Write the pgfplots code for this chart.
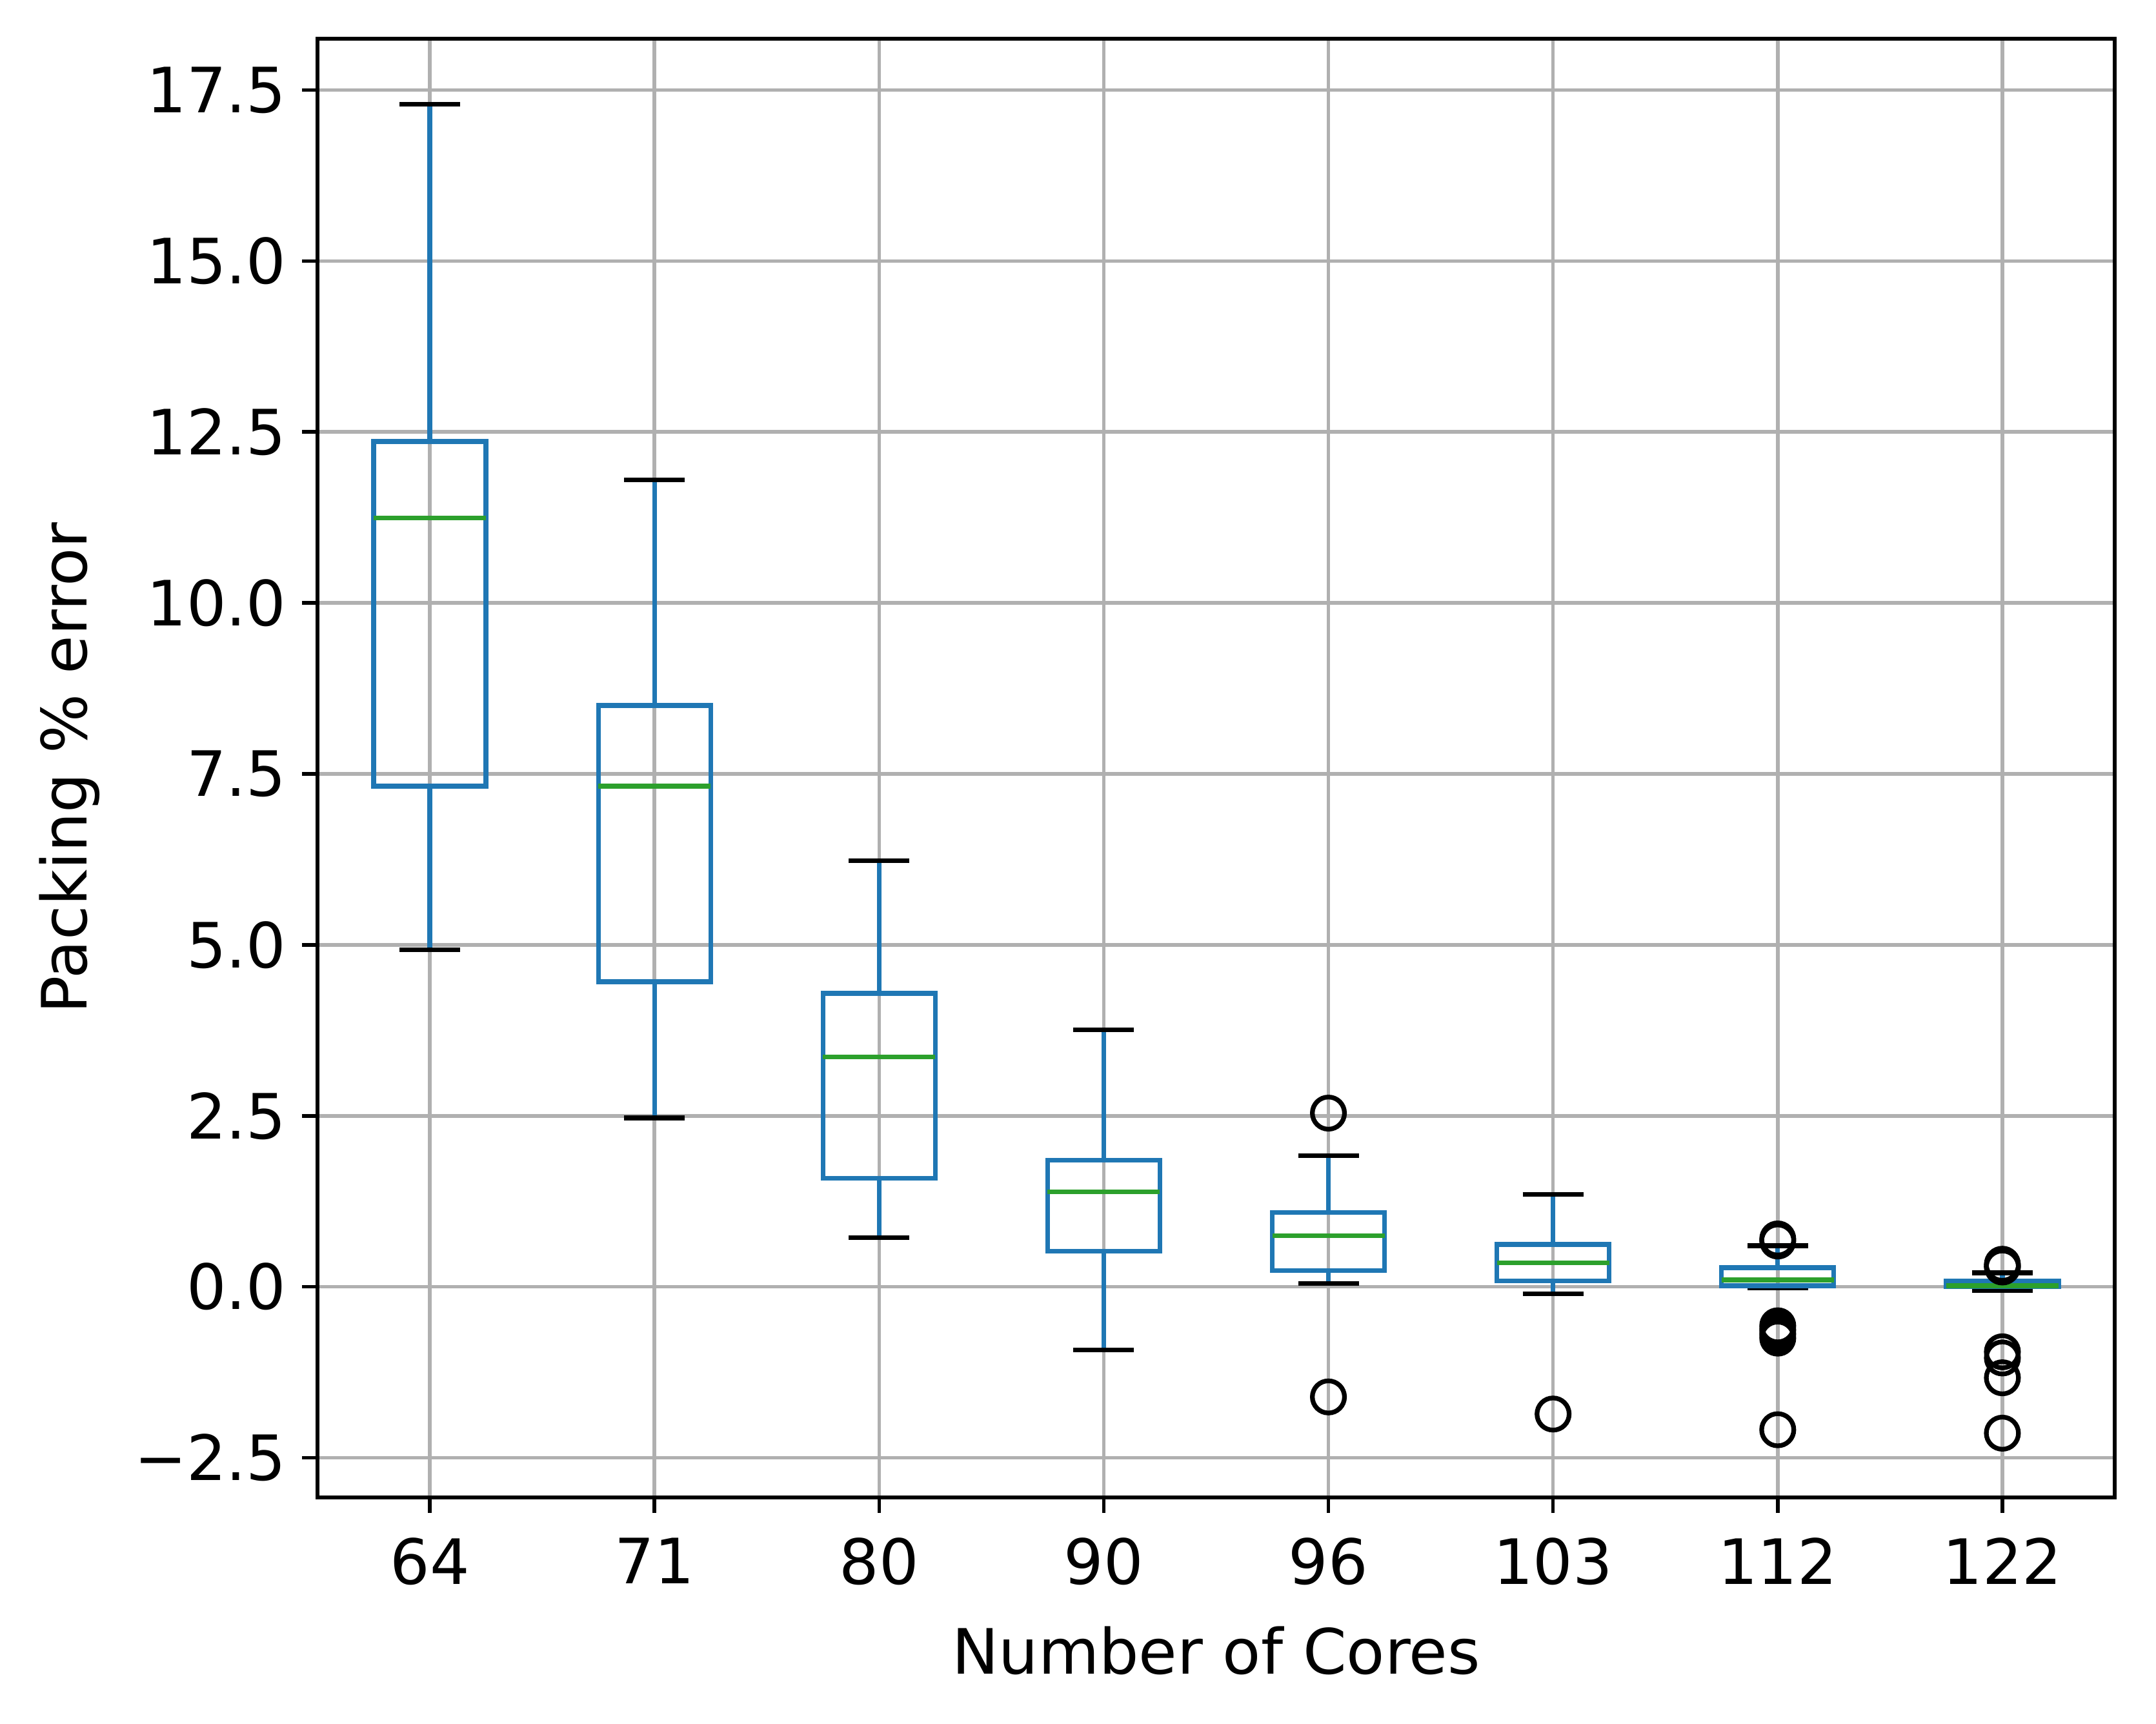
\documentclass[border=0pt]{standalone}
\usepackage{fontspec}
\setmainfont{DejaVu Sans}
\usepackage{pgfplots}
\pgfplotsset{compat=1.18}
\usepgfplotslibrary{statistics}
\definecolor{mplblue}{HTML}{1F77B4}
\definecolor{mplgreen}{HTML}{2CA02C}
\definecolor{gridgray}{HTML}{B0B0B0}
\pgfplotsset{outl/.style={mark=o, mark size=3.6pt, mark options={black, line width=1.05pt, solid}}}
\begin{document}
\begin{tikzpicture}
\begin{axis}[
  scale only axis,
  width=5.57in, height=4.52in,
  xmin=0.5, xmax=8.5,
  ymin=-3.08, ymax=18.25,
  xtick={1,2,3,4,5,6,7,8},
  xticklabels={64,71,80,90,96,103,112,122},
  ytick={-2.5,0,2.5,5,7.5,10,12.5,15,17.5},
  yticklabels={−2.5,0.0,2.5,5.0,7.5,10.0,12.5,15.0,17.5},
  tick align=outside,
  tick pos=left,
  major tick length=3.5pt,
  every tick/.style={black, line width=0.8pt},
  axis line style={line width=0.8pt},
  grid=major,
  major grid style={gridgray, line width=0.8pt},
  tick label style={font=\fontsize{14}{17}\selectfont},
  xticklabel style={yshift=-2pt},
  xlabel={Number of Cores},
  ylabel={Packing \% error},
  every axis x label/.style={at={(axis description cs:0.5,-0.105)}, anchor=center, font=\fontsize{14}{17}\selectfont},
  every axis y label/.style={at={(axis description cs:-0.138,0.5)}, rotate=90, anchor=center, font=\fontsize{14}{17}\selectfont},
  boxplot/draw direction=y,
  boxplot/box extend=0.5,
  boxplot/whisker extend=0.27,
  boxplot/every box/.style={draw=mplblue, line width=1.05pt},
  boxplot/every median/.style={draw=mplgreen, line width=1.05pt},
  boxplot/every whisker/.style={draw=mplblue, line width=1.05pt},
  boxplot/draw/whisker/.code 2 args={%
    \draw[draw=mplblue, line width=1.05pt] (boxplot cs:#1) -- (boxplot cs:#2);
    \draw[draw=black, line width=1.05pt] (boxplot whisker cs:#2,0) -- (boxplot whisker cs:#2,1);
  },
]
% 64
\addplot[outl,
  boxplot prepared={draw position=1, lower whisker=4.93, lower quartile=7.32, median=11.24, upper quartile=12.36, upper whisker=17.29}]
  coordinates {};
% 71
\addplot[outl,
  boxplot prepared={draw position=2, lower whisker=2.47, lower quartile=4.46, median=7.32, upper quartile=8.50, upper whisker=11.80}]
  coordinates {};
% 80
\addplot[outl,
  boxplot prepared={draw position=3, lower whisker=0.72, lower quartile=1.59, median=3.36, upper quartile=4.29, upper whisker=6.23}]
  coordinates {};
% 90
\addplot[outl,
  boxplot prepared={draw position=4, lower whisker=-0.92, lower quartile=0.52, median=1.39, upper quartile=1.85, upper whisker=3.76}]
  coordinates {};
% 96
\addplot[outl,
  boxplot prepared={draw position=5, lower whisker=0.05, lower quartile=0.24, median=0.75, upper quartile=1.09, upper whisker=1.92}]
  coordinates {(5,2.54) (5,-1.61)};
% 103
\addplot[outl,
  boxplot prepared={draw position=6, lower whisker=-0.10, lower quartile=0.09, median=0.35, upper quartile=0.62, upper whisker=1.35}]
  coordinates {(6,-1.86)};
% 112
\addplot[outl,
  boxplot prepared={draw position=7, lower whisker=-0.02, lower quartile=0.016, median=0.10, upper quartile=0.28, upper whisker=0.60}]
  coordinates {(7,0.70) (7,0.67) (7,-0.57) (7,-0.63) (7,-0.69) (7,-0.75) (7,-2.09)};
% 122
\addplot[outl,
  boxplot prepared={draw position=8, lower whisker=-0.05, lower quartile=0.0, median=0.016, upper quartile=0.09, upper whisker=0.205}]
  coordinates {(8,0.33) (8,0.30) (8,0.29) (8,-0.95) (8,-1.04) (8,-1.33) (8,-2.14)};
\end{axis}
\pgfresetboundingbox
\path[use as bounding box] ([shift={(-0.984in,-0.70in)}]current axis.south west) rectangle ([shift={(0.128in,0.12in)}]current axis.north east);
\end{tikzpicture}
\end{document}
